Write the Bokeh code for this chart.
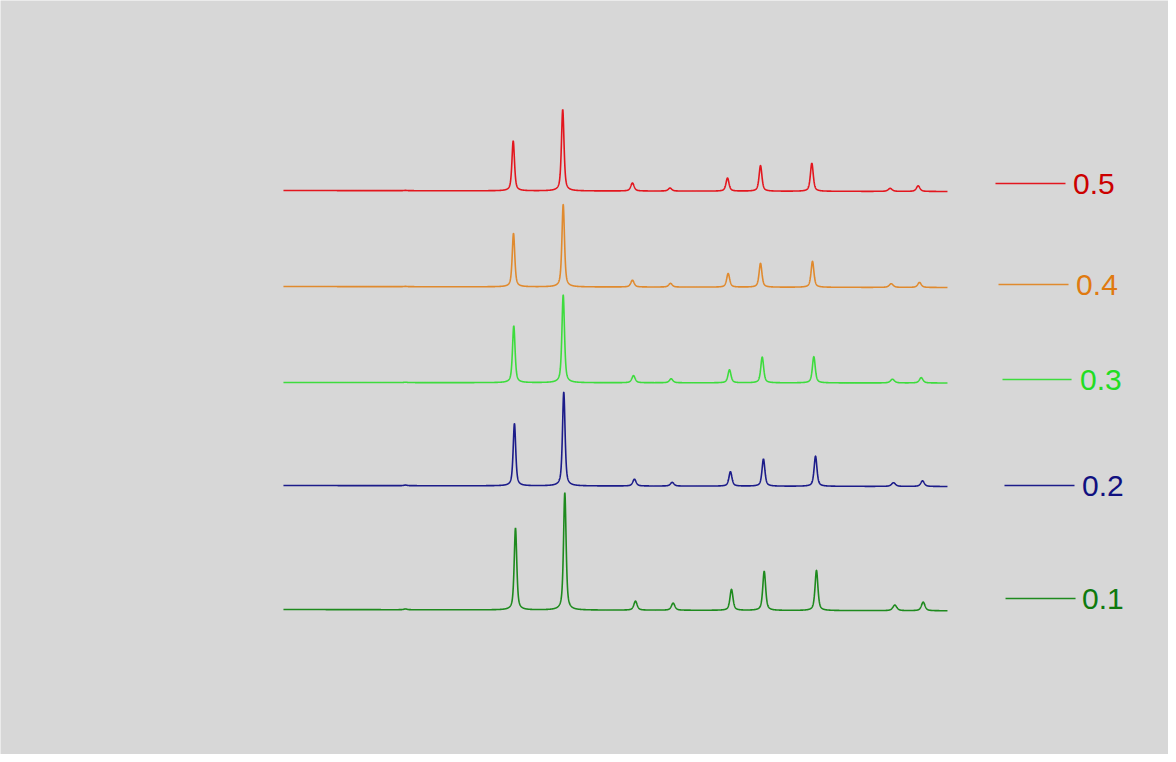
import numpy as np
from bokeh.plotting import figure
from bokeh.models import Range1d
from bokeh.embed import file_html
from bokeh.resources import INLINE
from bokeh.core.properties import value

# ---- data (2-theta in degrees, intensities in arbitrary units) ----
labels = ["0.5", "0.4", "0.3", "0.2", "0.1"]
line_colors = ["#e3161e", "#e08a2e", "#3ddc3d", "#1c1c8a", "#1e8a1e"]
label_colors = ["#cc0000", "#e07a10", "#22dd22", "#101080", "#0e7a0e"]

two_theta_min = 10.0
two_theta_max = 80.0

# baseline offsets (left end, right end) for stacking
base_left = [572.0, 476.0, 380.0, 277.0, 153.0]
base_right = [571.0, 475.0, 379.5, 276.0, 151.7]

peaks_05 = [22.86, 34.22, 39.44, 46.79, 50.75, 56.81, 60.29, 65.70, 73.96, 76.91]
peaks_04 = [22.86, 34.25, 39.49, 46.79, 50.80, 56.88, 60.29, 65.77, 74.07, 77.05]
peaks_03 = [22.86, 34.28, 39.49, 46.90, 50.87, 57.02, 60.47, 65.91, 74.20, 77.23]
peaks_02 = [22.86, 34.35, 39.55, 47.00, 50.98, 57.12, 60.60, 66.09, 74.31, 77.37]
peaks_01 = [22.86, 34.46, 39.66, 47.11, 51.08, 57.23, 60.68, 66.19, 74.45, 77.44]

heights_05 = [0.3, 50.0, 81.5, 8.0, 3.0, 13.2, 25.6, 28.2, 3.0, 5.6]
heights_04 = [0.3, 53.5, 82.5, 6.8, 3.7, 13.7, 24.0, 26.0, 3.7, 5.0]
heights_03 = [0.4, 57.0, 88.0, 7.1, 4.0, 13.1, 25.9, 26.3, 3.7, 5.3]
heights_02 = [0.6, 62.3, 94.0, 6.8, 3.7, 14.5, 27.3, 30.2, 3.7, 5.6]
heights_01 = [0.8, 82.0, 117.5, 9.0, 7.1, 21.0, 39.2, 40.2, 5.6, 8.6]

fwhm = [0.4, 0.32, 0.32, 0.42, 0.44, 0.38, 0.36, 0.36, 0.5, 0.45]
eta = 0.6

all_peaks = [peaks_05, peaks_04, peaks_03, peaks_02, peaks_01]
all_heights = [heights_05, heights_04, heights_03, heights_02, heights_01]

# legend placement (degrees) per series
legend_x0 = [85.06, 85.38, 85.80, 86.01, 86.12]
legend_x1 = [92.44, 92.76, 93.08, 93.39, 93.50]
legend_tx = [93.24, 93.56, 93.98, 94.19, 94.19]
legend_y = [579.0, 478.0, 383.0, 277.0, 164.0]

# ---- build figure ----
W, H = 1168, 754
p = figure(width=W, height=H, output_backend="svg", toolbar_location=None,
           x_range=Range1d(-19.83, 103.30), y_range=Range1d(8, 762),
           min_border=0, background_fill_color="#d7d7d7",
           border_fill_color="#d7d7d7", outline_line_color=None)
p.axis.visible = False
p.grid.visible = False

x = np.linspace(two_theta_min, two_theta_max, 3501)


def profile(xc, h, w):
    g = np.exp(-4 * np.log(2) * ((x - xc) / w) ** 2)
    lo = 1.0 / (1.0 + 4 * ((x - xc) / w) ** 2)
    return h * (eta * lo + (1 - eta) * g)


for i in range(5):
    base = base_left[i] + (base_right[i] - base_left[i]) * (x - two_theta_min) / (two_theta_max - two_theta_min)
    y = base.copy()
    for xc, h, w in zip(all_peaks[i], all_heights[i], fwhm):
        y += profile(xc, h, w)
    p.line(x, y, line_color=line_colors[i], line_width=1.6)
    p.segment(x0=[legend_x0[i]], y0=[legend_y[i]], x1=[legend_x1[i]], y1=[legend_y[i]],
              line_color=line_colors[i], line_width=1.3)
    p.text(x=[legend_tx[i]], y=[legend_y[i]], text=[labels[i]],
           text_color=label_colors[i], text_font=value("Liberation Sans"),
           text_font_size="30px", text_baseline="middle", text_align="left")

open("out.html", "w").write(file_html(p, INLINE))
